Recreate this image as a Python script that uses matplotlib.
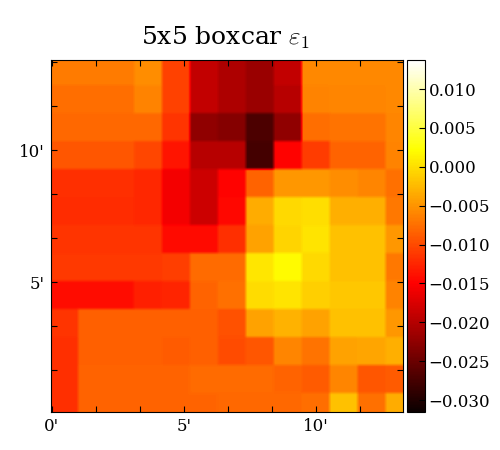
import numpy as np
import matplotlib
matplotlib.use("Agg")
import matplotlib.pyplot as plt
from matplotlib.ticker import FixedLocator

plt.rcParams['font.family'] = ['DejaVu Serif']
plt.rcParams['mathtext.fontset'] = 'cm'

# values, top row first
row_0 = [-.0067, -.0067, -.0067, -.0055, -.0105, -.0190, -.0205, -.0218, -.0190, -.0058, -.0058, -.0058, -.0058]
row_1 = [-.0076, -.0076, -.0076, -.0061, -.0105, -.0190, -.0205, -.0218, -.0198, -.0061, -.0060, -.0060, -.0058]
row_2 = [-.0079, -.0079, -.0079, -.0079, -.0115, -.0225, -.0232, -.0270, -.0225, -.0076, -.0072, -.0072, -.0060]
row_3 = [-.0092, -.0092, -.0092, -.0102, -.0136, -.0198, -.0198, -.0275, -.0149, -.0110, -.0082, -.0082, -.0061]
row_4 = [-.0118, -.0118, -.0118, -.0124, -.0157, -.0184, -.0149, -.0082, -.0048, -.0048, -.0054, -.0060, -.0074]
row_5 = [-.0120, -.0120, -.0120, -.0124, -.0157, -.0184, -.0145, -.0034, -.0003, .0000, -.0031, -.0031, -.0068]
row_6 = [-.0115, -.0115, -.0115, -.0115, -.0143, -.0143, -.0118, -.0041, -.0006, .0003, -.0020, -.0020, -.0048]
row_7 = [-.0112, -.0112, -.0112, -.0112, -.0108, -.0078, -.0078, .0006, .0020, -.0003, -.0020, -.0020, -.0068]
row_8 = [-.0141, -.0141, -.0141, -.0128, -.0125, -.0082, -.0074, -.0001, .0003, -.0010, -.0016, -.0016, -.0061]
row_9 = [-.0115, -.0085, -.0085, -.0085, -.0085, -.0085, -.0096, -.0040, -.0030, -.0040, -.0020, -.0020, -.0048]
row_10 = [-.0118, -.0085, -.0085, -.0085, -.0088, -.0085, -.0098, -.0092, -.0060, -.0072, -.0040, -.0038, -.0032]
row_11 = [-.0118, -.0082, -.0082, -.0082, -.0082, -.0078, -.0078, -.0078, -.0082, -.0088, -.0060, -.0092, -.0088]
row_12 = [-.0118, -.0082, -.0082, -.0082, -.0082, -.0082, -.0080, -.0080, -.0080, -.0075, -.0020, -.0074, -.0034]

rows = [row_0, row_1, row_2, row_3, row_4, row_5, row_6, row_7, row_8, row_9, row_10, row_11, row_12]

tick_pos = [0, 5, 10]
tick_labels = ["0'", "5'", "10'"]
cbar_ticks = [-.03, -.025, -.02, -.015, -.01, -.005, 0, .005, .01]

data = np.array(rows)
# repeat the cells so bilinear only softens the block edges
data = np.repeat(np.repeat(data, 8, axis=0), 8, axis=1)

fig = plt.figure(figsize=(5, 4.5), dpi=100)
ax = fig.add_axes([50.5/500, 38/450, 352.5/500, 352/450])
cax = fig.add_axes([407/500, 38/450, 18/500, 352/450])

im = ax.imshow(data, cmap="hot", vmin=-0.03154, vmax=0.01373, interpolation="bilinear",
               extent=[-0.08, 13.66, -0.26, 13.52], aspect="auto")
ax.set_xlim(-0.05, 13.3)
ax.set_ylim(0.08, 13.41)

ax.xaxis.set_major_locator(FixedLocator(tick_pos))
ax.yaxis.set_major_locator(FixedLocator(tick_pos))
ax.set_xticklabels(tick_labels)
ax.set_yticklabels(tick_labels)
ax.xaxis.set_minor_locator(FixedLocator(np.arange(0, 14, 5/3)))
ax.yaxis.set_minor_locator(FixedLocator(np.arange(0, 14, 5/3)))
ax.tick_params(which="both", direction="in", top=True, right=True, length=4, width=0.8,
               labelsize=12, pad=4)
ax.set_title(r"5x5 boxcar $\varepsilon_1$", fontsize=18, pad=11, x=0.495)

cb = fig.colorbar(im, cax=cax)
cb.set_ticks(cbar_ticks)
cb.ax.set_yticklabels(["%.3f" % t if t >= 0 else "\u2212%.3f" % abs(t) for t in cbar_ticks])
cb.ax.tick_params(direction="in", length=4, width=0.8, labelsize=12, pad=2.5)
cb.ax.minorticks_off()

fig.savefig("out.png", dpi=100)
